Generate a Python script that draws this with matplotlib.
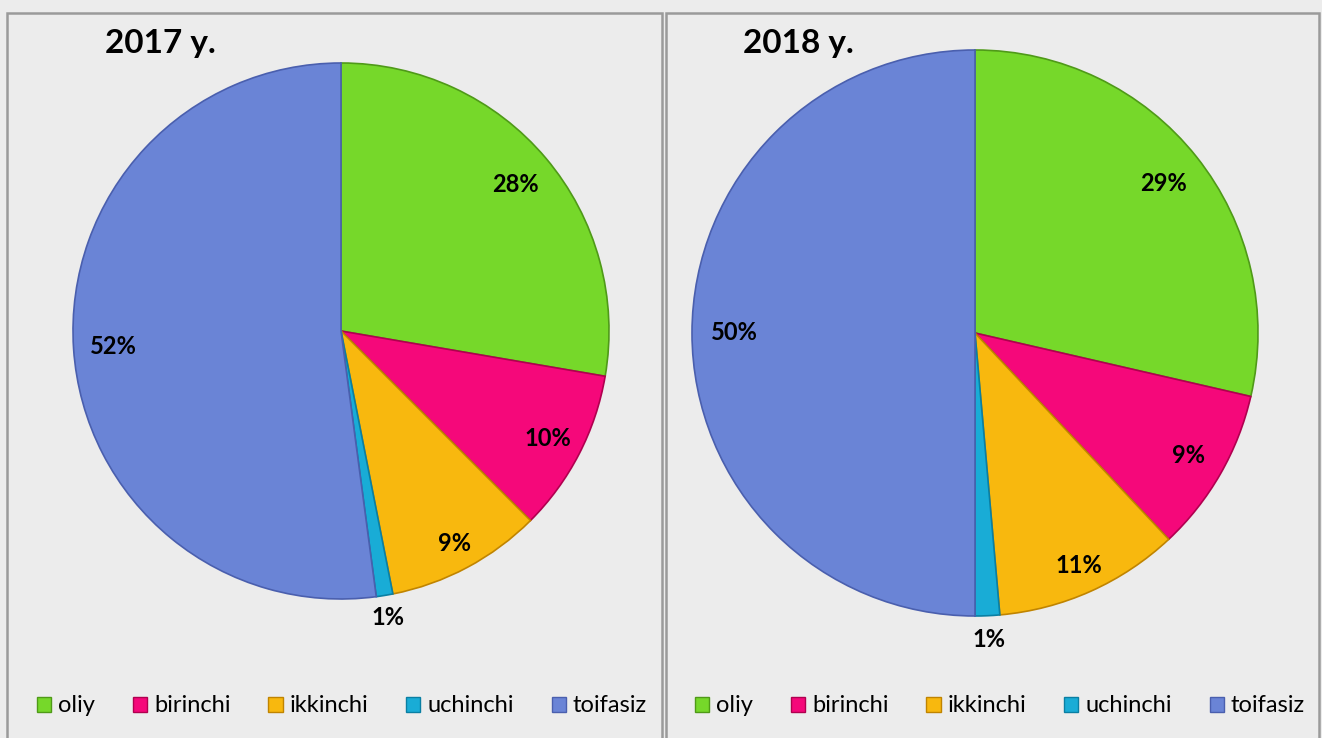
import matplotlib.pyplot as plt
from matplotlib.patches import Rectangle, Patch
import numpy as np

categories = ["oliy", "birinchi", "ikkinchi", "uchinchi", "toifasiz"]
years = ["2017 y.", "2018 y."]
values_2017 = [27.7, 9.8, 9.4, 1.0, 52.1]
values_2018 = [28.6, 9.4, 10.6, 1.4, 50.0]
labels_2017 = ["28%", "10%", "9%", "1%", "52%"]
labels_2018 = ["29%", "9%", "11%", "1%", "50%"]

colors = ["#76d82a", "#f5087a", "#f8b80e", "#19acd6", "#6a84d6"]
edges = ["#4f9a18", "#b0004f", "#c08400", "#0a7fa3", "#4a5fae"]
label_dist = [0.85, 0.87, 0.9, 1.085, 0.85]

plt.rcParams['font.family'] = ['Lato', 'DejaVu Sans']

fig = plt.figure(figsize=(13.22, 7.38), dpi=100)
fig.patch.set_facecolor("#ececec")

# panel borders
W, H = 1322, 738
for x0, x1 in [(7, 662), (666, 1319)]:
    fig.add_artist(Rectangle((x0 / W, -0.01), (x1 - x0) / W, (H - 13) / H + 0.01,
                             transform=fig.transFigure, fill=False,
                             edgecolor="#9a9a9a", linewidth=1.8))

# (cx, cy, r) in pixels, title x, legend center x
panels = [
    (341, 331, 268, 105, 342, values_2017, labels_2017),
    (975, 333, 283, 743, 1000, values_2018, labels_2018),
]

for (cx, cy, r, tx, lx, vals, labs), year in zip(panels, years):
    ax = fig.add_axes([(cx - r) / W, (H - cy - r) / H, 2 * r / W, 2 * r / H])
    wedges, _ = ax.pie(vals, colors=colors, startangle=90, counterclock=False,
                       radius=1, wedgeprops=dict(linewidth=1.2))
    ax.set_xlim(-1, 1)
    ax.set_ylim(-1, 1)
    ax.axis("off")
    for w, ec in zip(wedges, edges):
        w.set_edgecolor(ec)
    for w, lab, d in zip(wedges, labs, label_dist):
        ang = np.deg2rad((w.theta1 + w.theta2) / 2)
        ax.text(d * np.cos(ang), d * np.sin(ang), lab, ha="center", va="center",
                fontsize=17, fontweight="bold", color="black", clip_on=False)
    fig.text(tx / W, 1 - 43 / H, year, fontsize=24, fontweight="bold",
             ha="left", va="center")
    handles = [Patch(facecolor=c, edgecolor=e) for c, e in zip(colors, edges)]
    fig.legend(handles, categories, loc="center", bbox_to_anchor=(lx / W, 1 - 706 / H),
               ncol=5, frameon=False, fontsize=17, handlelength=0.6, handleheight=0.6,
               handletextpad=0.3, columnspacing=1.6, borderpad=0.1, borderaxespad=0)

fig.savefig("out.png", dpi=100, facecolor=fig.get_facecolor())
